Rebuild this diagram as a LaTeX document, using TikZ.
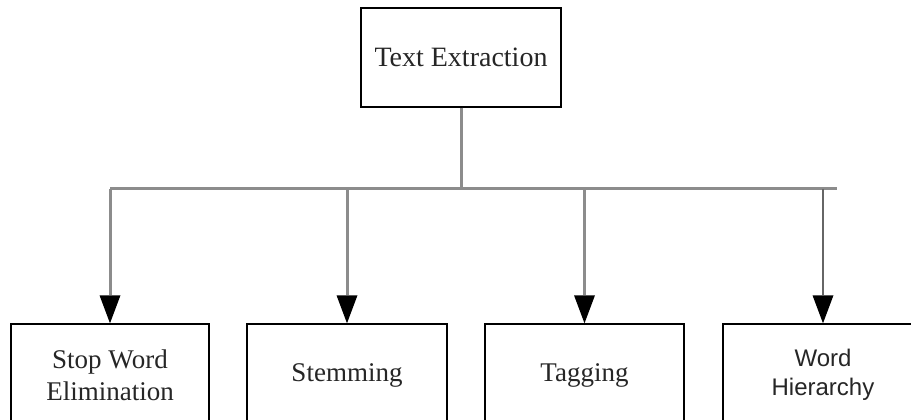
\documentclass[tikz,border=0pt]{standalone}
\usepackage{fontspec}
\setmainfont{Liberation Serif}
\newfontfamily\plainsans{Liberation Sans}
\usetikzlibrary{arrows.meta}
\begin{document}
\begin{tikzpicture}[x=1pt,y=1pt,
  box/.style={draw=black, line width=1.4pt, fill=white, inner sep=0pt,
    minimum width=200pt, align=center, text=black!85},
  topbox/.style={box, minimum height=99pt,
    font=\fontsize{28}{32}\selectfont},
  leafbox/.style={box, minimum height=102pt,
    font=\fontsize{27}{32}\selectfont},
  sansleaf/.style={leafbox, font=\plainsans\fontsize{24}{29}\selectfont},
  bus/.style={draw=black!45, line width=3pt},
  feed/.style={bus, -{Triangle[width=21pt,length=28pt,fill=black,line width=0pt]}},
  thinfeed/.style={feed, draw=black!60, line width=1.6pt}
]
\useasboundingbox (0,0) rectangle (911,420);
\clip (0,0) rectangle (911,420);
\fill[white] (0,0) rectangle (911,420);

% root of the hierarchy
\node[topbox] (root) at (461,362.5) {Text Extraction};

% processing steps
\node[leafbox, minimum width=198pt] (stop) at (110,45) {Stop Word\\Elimination};
\node[leafbox] (stem) at (347,45) {Stemming};
\node[leafbox, minimum width=199pt] (tag) at (584.5,45) {Tagging};
\node[sansleaf] (hier) at (823,45)
  {\raisebox{4pt}{\begin{tabular}{@{}c@{}}Word\\Hierarchy\end{tabular}}};

% distribution bus
\coordinate (busL) at (110,231);
\coordinate (busR) at (837,231);
\draw[bus] (root.south) -- (root.south |- busL);
\draw[bus] (busL) -- (busR);

% drops onto each step
\draw[feed] (stop.north |- busL) -- (stop.north);
\draw[feed] (stem.north |- busL) -- (stem.north);
\draw[feed] (tag.north |- busL) -- (tag.north);
\draw[thinfeed] (hier.north |- busL) -- (hier.north);
\end{tikzpicture}
\end{document}
